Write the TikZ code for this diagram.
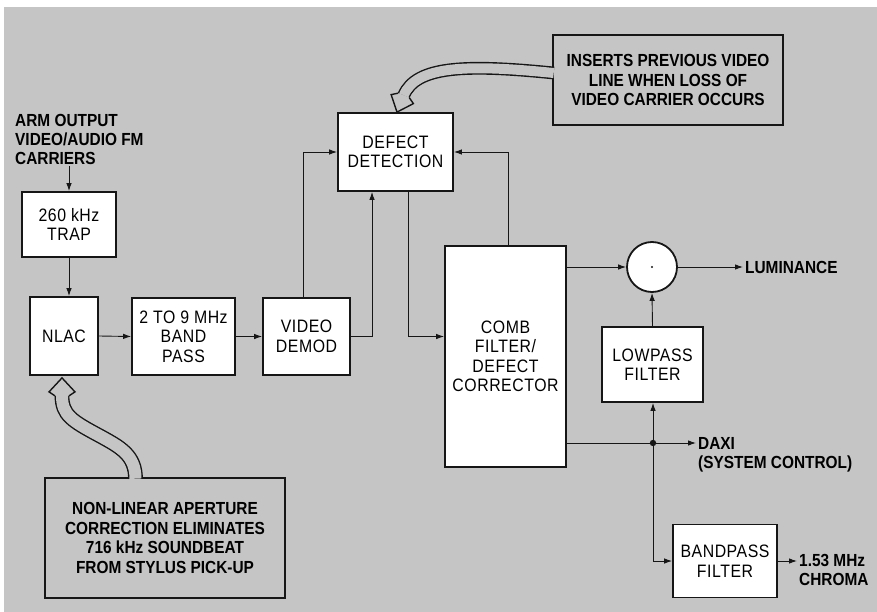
\documentclass[tikz,border=0pt]{standalone}
\usepackage{fontspec}
\setmainfont{Liberation Sans}[FakeStretch=0.88]
\usepackage{tikz}
\usetikzlibrary{arrows.meta,positioning,calc}
\definecolor{Panel}{HTML}{C5C5C5}
\definecolor{Ink}{HTML}{161616}

\begin{document}
\begin{tikzpicture}[x=1pt,y=-1pt,
  blk/.style={draw=Ink,line width=1.8pt,fill=white,align=center,inner sep=2pt,font=\addfontfeature{LetterSpace=3}\fontsize{18}{19.5}\selectfont},
  note/.style={draw=Ink,line width=1.6pt,fill=Panel,align=center,inner sep=2pt,font=\bfseries\fontsize{17.5}{19.5}\selectfont},
  lbl/.style={align=left,inner sep=2pt,font=\bfseries\fontsize{17.5}{19}\selectfont},
  sig/.style={draw=Ink,line width=0.9pt,-{Latex[length=8pt,width=5.5pt]}},
  hollow/.style={draw=Ink,line width=1.4pt,double=Panel}]
  \useasboundingbox (0,0) rectangle (877,612);
  \fill[white] (0,0) rectangle (877,612);
  \fill[Panel] (4,7) rectangle (877,612);

  \node[lbl,anchor=west] (arm) at (13,139) {ARM OUTPUT\\VIDEO/AUDIO FM\\CARRIERS};
  \node[blk,minimum width=94pt,minimum height=65pt] (trap) at (69,224.5) {260 kHz\\TRAP};
  \node[blk,minimum width=68pt,minimum height=78pt] (nlac) at (64,336) {NLAC};
  \node[blk,minimum width=103pt,minimum height=77pt] (band) at (183.5,336.5) {2 TO 9 MHz\\BAND\\PASS};
  \node[blk,minimum width=87pt,minimum height=77pt] (demod) at (306.5,336.5) {VIDEO\\DEMOD};
  \node[blk,minimum width=115pt,minimum height=78pt] (defect) at (395.5,152) {DEFECT\\DETECTION};
  \node[blk,minimum width=121pt,minimum height=221pt] (comb) at (505.5,356.5) {COMB\\FILTER/\\DEFECT\\CORRECTOR};
  \node[blk,circle,minimum size=50pt,inner sep=0pt] (sum) at (652,267) {};
  \fill[Ink] (sum) circle (1.2pt);
  \node[blk,minimum width=101pt,minimum height=75pt] (lowpass) at (652.5,364.5) {LOWPASS\\FILTER};
  \node[blk,minimum width=104pt,minimum height=73pt] (bandpass) at (725,561) {BANDPASS\\FILTER};
  \coordinate (tap) at (653,443);
  \fill[Ink] (tap) circle (3.2pt);

  \node[lbl,anchor=west] (lum) at (743,267) {LUMINANCE};
  \node[lbl,anchor=north west] (daxi) at (696,435) {DAXI\\(SYSTEM CONTROL)};
  \node[lbl,anchor=north west] (chroma) at (797,552) {1.53 MHz\\CHROMA};

  \draw[sig] (arm.south -| trap.north) -- (trap.north);
  \draw[sig] (trap.south) -- (trap.south |- nlac.north);
  \draw[sig] (nlac.east) -- (band.west);
  \draw[sig] (band.east) -- (demod.west);
  \draw[sig] ([xshift=-3.5pt]demod.north) |- (defect.west);
  \draw[sig] (demod.east) -| ([xshift=-23.5pt]defect.south);
  \draw[sig] ([xshift=12.5pt]defect.south) |- (comb.west |- demod.east);
  \draw[sig] ([xshift=2.5pt]comb.north) |- (defect.east);
  \draw[sig] (comb.east |- sum.west) -- (sum.west);
  \draw[sig] (sum.east) -- (lum.west);
  \draw[sig] (lowpass.north) -- (sum.south);
  \draw[Ink,line width=0.9pt] (comb.east |- tap) -- (tap);
  \draw[sig] (tap) -- (tap -| daxi.west);
  \draw[sig] (tap) -- (tap |- lowpass.south);
  \draw[sig] (tap) |- (bandpass.west);
  \draw[sig] (bandpass.east) -- (bandpass.east -| chroma.west);

  \node[note,minimum width=230pt,minimum height=90pt] (why) at (668,80) {INSERTS PREVIOUS VIDEO\\LINE WHEN LOSS OF\\VIDEO CARRIER OCCURS};
  \node[note,minimum width=240pt,minimum height=120pt] (how) at (165,538) {NON-LINEAR APERTURE\\CORRECTION ELIMINATES\\716 kHz SOUNDBEAT\\FROM STYLUS PICK-UP};

  \coordinate (tipA) at ([xshift=1.5pt]defect.north);
  \coordinate (tipB) at ([xshift=-2pt,yshift=-2pt]nlac.south);
  \draw[hollow,double distance=10pt] ([xshift=1.5pt,yshift=7pt]why.west)
    .. controls (465,64) and (416,66) .. ($(tipA)+(6.7,-16.7)$);
  \draw[hollow,double distance=12pt] ([xshift=-29.5pt,yshift=-1.5pt]how.north)
    .. controls (135.5,455) and (120,447) .. (100,436)
    .. controls (72,421) and (62,415) .. ($(tipB)+(0,18)$);
  \foreach \tip/\ang/\w in {tipA/-22/6,tipB/180/7} {
    \begin{scope}[shift={(\tip)},rotate=\ang]
      \filldraw[fill=Panel,draw=Ink,line width=1.4pt,line join=miter]
        (-\w,-18) -- (-\w-6,-14) -- (0,0) -- (\w+6,-14) -- (\w,-18);
    \end{scope}
  }
\end{tikzpicture}
\end{document}
